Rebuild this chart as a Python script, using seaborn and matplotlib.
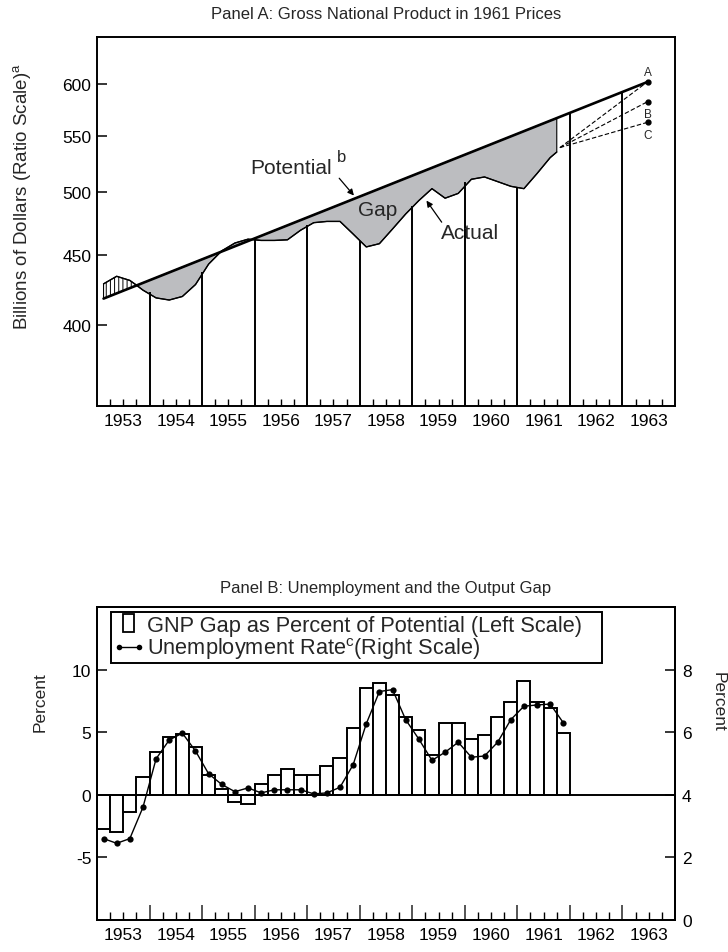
import numpy as np
import seaborn as sns
import matplotlib.pyplot as plt
import matplotlib.patches as mpatches
from matplotlib.lines import Line2D
from matplotlib.legend_handler import HandlerPatch
from matplotlib.ticker import NullLocator

sns.set_theme(style='ticks')
plt.rcParams['font.family'] = ['Liberation Sans', 'DejaVu Sans']
plt.rcParams['mathtext.fontset'] = 'custom'
plt.rcParams['mathtext.rm'] = 'Liberation Sans'
plt.rcParams['mathtext.it'] = 'Liberation Sans:italic'
plt.rcParams['hatch.linewidth'] = 0.7
plt.rcParams['axes.edgecolor'] = 'black'

# --- data ---
quarter_mid = np.arange(1953.125, 1962.0, 0.25)  # 1953 Q1 .. 1961 Q4

# panel A: actual GNP, billions of 1961 dollars
gnp_time = list(quarter_mid[:35]) + [1961.75]
gnp_actual = [428.5, 434, 431, 424, 418.5, 417, 419.5, 428,
              443, 453, 459, 462, 461, 461, 461.5, 469,
              475, 476, 476, 466, 456, 458.5, 470, 482,
              493, 503, 495, 499, 511, 513, 509, 505,
              503, 516, 530, 535]

# potential GNP (straight on ratio scale)
potential_time = [1953.125, 1963.5]
potential_value = [418, 602.5]
potential_at_end = 566.5          # at the last actual point
cross_time, cross_value = 1953.76, 427.5   # actual meets potential

# year lines up to the curves
year_lines = [1954, 1955, 1956, 1957, 1958, 1959, 1960, 1961, 1962, 1963]
year_line_tops = [422.5, 437, 462.2, 473, 460.9, 488.8, 508.5, 503.4, 571.4, 591.9]

# projections to 1963
proj_start = (1961.81, 539)
proj_time = 1963.48
proj_value = [602.3, 582.4, 562.5]
proj_names = ['A', 'B', 'C']
proj_label_y = [612, 570.4, 550.6]

# panel B
gap_pct = [-2.7, -3.0, -1.4, 1.4, 3.4, 4.65, 4.85, 3.8,
           1.55, 0.45, -0.6, -0.72, 0.83, 1.55, 2.1, 1.6,
           1.55, 2.3, 2.95, 5.35, 8.55, 8.9, 7.95, 6.2,
           5.15, 3.2, 5.77, 5.77, 4.45, 4.75, 6.22, 7.45,
           9.1, 7.45, 6.9, 4.92]
unemp = [2.6, 2.45, 2.6, 3.6, 5.15, 5.75, 5.97, 5.4,
         4.67, 4.33, 4.1, 4.22, 4.06, 4.16, 4.16, 4.16,
         4.03, 4.06, 4.24, 4.96, 6.27, 7.3, 7.36, 6.4,
         5.78, 5.1, 5.36, 5.68, 5.2, 5.24, 5.68, 6.4,
         6.83, 6.87, 6.9, 6.3]

year_labels = [str(y) for y in range(1953, 1964)]

GRAY = '#bcbdc0'
LW_FRAME = 1.4

fig = plt.figure(figsize=(7.28, 9.53), dpi=100)


def quarter_ticks(ax):
    ax.set_xlim(1953, 1964)
    ax.set_xticks(range(1953, 1965), [''] * 12)
    pos, lab = [], []
    for i, y in enumerate(range(1953, 1964)):
        for q in (0.25, 0.5, 0.75):
            pos.append(y + q)
            lab.append(year_labels[i] if q == 0.5 else '')
    ax.set_xticks(pos, lab, minor=True)


# ---------------- Panel A ----------------
axA = fig.add_axes([0.1332, 0.5732, 0.794, 0.3866])
axA.set_yscale('log')

gap_x = [cross_time] + [t for t in gnp_time if t > cross_time] + [gnp_time[-1]]
gap_y = [cross_value] + [v for t, v in zip(gnp_time, gnp_actual) if t > cross_time] + [potential_at_end]
axA.fill(gap_x, gap_y, facecolor=GRAY, edgecolor='black', linewidth=0.8, zorder=1)

hatch_x = [potential_time[0]] + [t for t in gnp_time if t < cross_time] + [cross_time]
hatch_y = [potential_value[0]] + [v for t, v in zip(gnp_time, gnp_actual) if t < cross_time] + [cross_value]
axA.fill(hatch_x, hatch_y, facecolor='white', edgecolor='black', hatch='||||', linewidth=0.8, zorder=1)

axA.vlines(year_lines, 349, year_line_tops, color='black', linewidth=1.4, zorder=2)

sns.lineplot(x=gnp_time, y=gnp_actual, ax=axA, color='black', linewidth=1.0, zorder=3)
sns.lineplot(x=potential_time, y=potential_value, ax=axA, color='black', linewidth=1.9, zorder=4)

for v in proj_value:
    axA.plot([proj_start[0], proj_time], [proj_start[1], v], color='black',
             linewidth=0.8, linestyle=(0, (4, 2)), zorder=4)
axA.plot([proj_time] * 3, proj_value, 'o', color='black', markersize=3.5, zorder=5)
for name, yv in zip(proj_names, proj_label_y):
    axA.text(proj_time, yv, name, fontsize=8.5, ha='center', va='center')

axA.text(1956.69, 521.4, 'Potential', fontsize=15, ha='center', va='center')
axA.text(1957.65, 531, 'b', fontsize=12, ha='center', va='center')
axA.annotate('', xy=(1957.89, 497.2), xytext=(1957.61, 511.9),
             arrowprops=dict(arrowstyle='-|>', color='black', lw=0.9,
                             mutation_scale=9, shrinkA=0, shrinkB=0))
axA.text(1958.34, 485.3, 'Gap', fontsize=15, ha='center', va='center')
axA.text(1960.09, 466.9, 'Actual', fontsize=15, ha='center', va='center')
axA.annotate('', xy=(1959.27, 493.0), xytext=(1959.56, 475.4),
             arrowprops=dict(arrowstyle='-|>', color='black', lw=0.9,
                             mutation_scale=9, shrinkA=0, shrinkB=0))

axA.set_ylim(349, 649)
axA.set_yticks([400, 450, 500, 550, 600], ['400', '450', '500', '550', '600'])
axA.yaxis.set_minor_locator(NullLocator())
quarter_ticks(axA)
axA.tick_params(axis='x', which='major', length=0)
axA.tick_params(axis='x', which='minor', direction='in', length=5.3, width=1,
                labelsize=12.5, pad=5, colors='black')
axA.tick_params(axis='y', direction='in', length=7, width=1.1, labelsize=12.5,
                pad=4, colors='black')
axA.set_ylabel('Billions of Dollars (Ratio Scale)$^{\\rm a}$', fontsize=13.5,
               ha='center', va='center')
axA.yaxis.set_label_coords(-0.13, 0.57)
for s in axA.spines.values():
    s.set_linewidth(LW_FRAME)

# ---------------- Panel B ----------------
axB = fig.add_axes([0.1332, 0.0336, 0.794, 0.3284])
axB.bar(quarter_mid, gap_pct, width=0.25, facecolor='white', edgecolor='black',
        linewidth=1.4, zorder=2)
axB.axhline(0, color='black', linewidth=1.4, zorder=3)
axB.set_ylim(-10, 15)
axB.set_yticks([-5, 0, 5, 10], ['-5', '0', '5', '10'])
quarter_ticks(axB)
axB.tick_params(axis='x', which='major', direction='in', length=11, width=1.1)
axB.tick_params(axis='x', which='minor', direction='in', length=6, width=1,
                labelsize=12.5, pad=5, colors='black')
axB.tick_params(axis='y', direction='in', length=7, width=1.1, labelsize=12.5,
                pad=4, colors='black')
axB.set_ylabel('Percent', fontsize=12.5, ha='center', va='center')
axB.yaxis.set_label_coords(-0.099, 0.70)

axU = axB.twinx()
sns.lineplot(x=quarter_mid, y=unemp, ax=axU, color='black', linewidth=1.0,
             marker='o', markersize=4.5, markeredgewidth=0, zorder=4)
axU.set_ylim(0, 10)
axU.set_yticks([0, 2, 4, 6, 8], ['0', '2', '4', '6', '8'])
axU.tick_params(axis='y', direction='in', length=7, width=1.1, labelsize=12.5,
                pad=5, colors='black')
axU.set_ylabel('Percent', rotation=270, fontsize=12.5, ha='center', va='center')
axU.yaxis.set_label_coords(1.074, 0.70)
for ax in (axB, axU):
    for s in ax.spines.values():
        s.set_linewidth(LW_FRAME)


def narrow_box(legend, orig_handle, xdescent, ydescent, width, height, fontsize):
    w = 0.336 * width
    h = 1.18 * height
    return mpatches.Rectangle((-xdescent + 0.318 * width, -ydescent - (h - height) / 2), w, h)


handles = [mpatches.Rectangle((0, 0), 1, 1, facecolor='white', edgecolor='black', linewidth=1.3),
           Line2D([], [], color='black', linewidth=1.0, marker='o', markersize=4, markeredgewidth=0)]
labels = ['GNP Gap as Percent of Potential (Left Scale)   ',
          'Unemployment Rate$^{\\rm c}$(Right Scale)']
leg = axU.legend(handles, labels, loc='upper left', bbox_to_anchor=(0.0237, 0.983),
                 borderaxespad=0, fontsize=15.7, frameon=True, fancybox=False,
                 edgecolor='black', framealpha=1, handlelength=1.5, handletextpad=0.05,
                 labelspacing=0.0, borderpad=0.1, numpoints=2,
                 handler_map={mpatches.Rectangle: HandlerPatch(patch_func=narrow_box)})
leg.get_frame().set_linewidth(1.4)

fig.text(0.530, 0.985, 'Panel A: Gross National Product in 1961 Prices',
         ha='center', va='center', fontsize=12)
fig.text(0.530, 0.383, 'Panel B: Unemployment and the Output Gap',
         ha='center', va='center', fontsize=12)

fig.savefig('out.png', dpi=100)
